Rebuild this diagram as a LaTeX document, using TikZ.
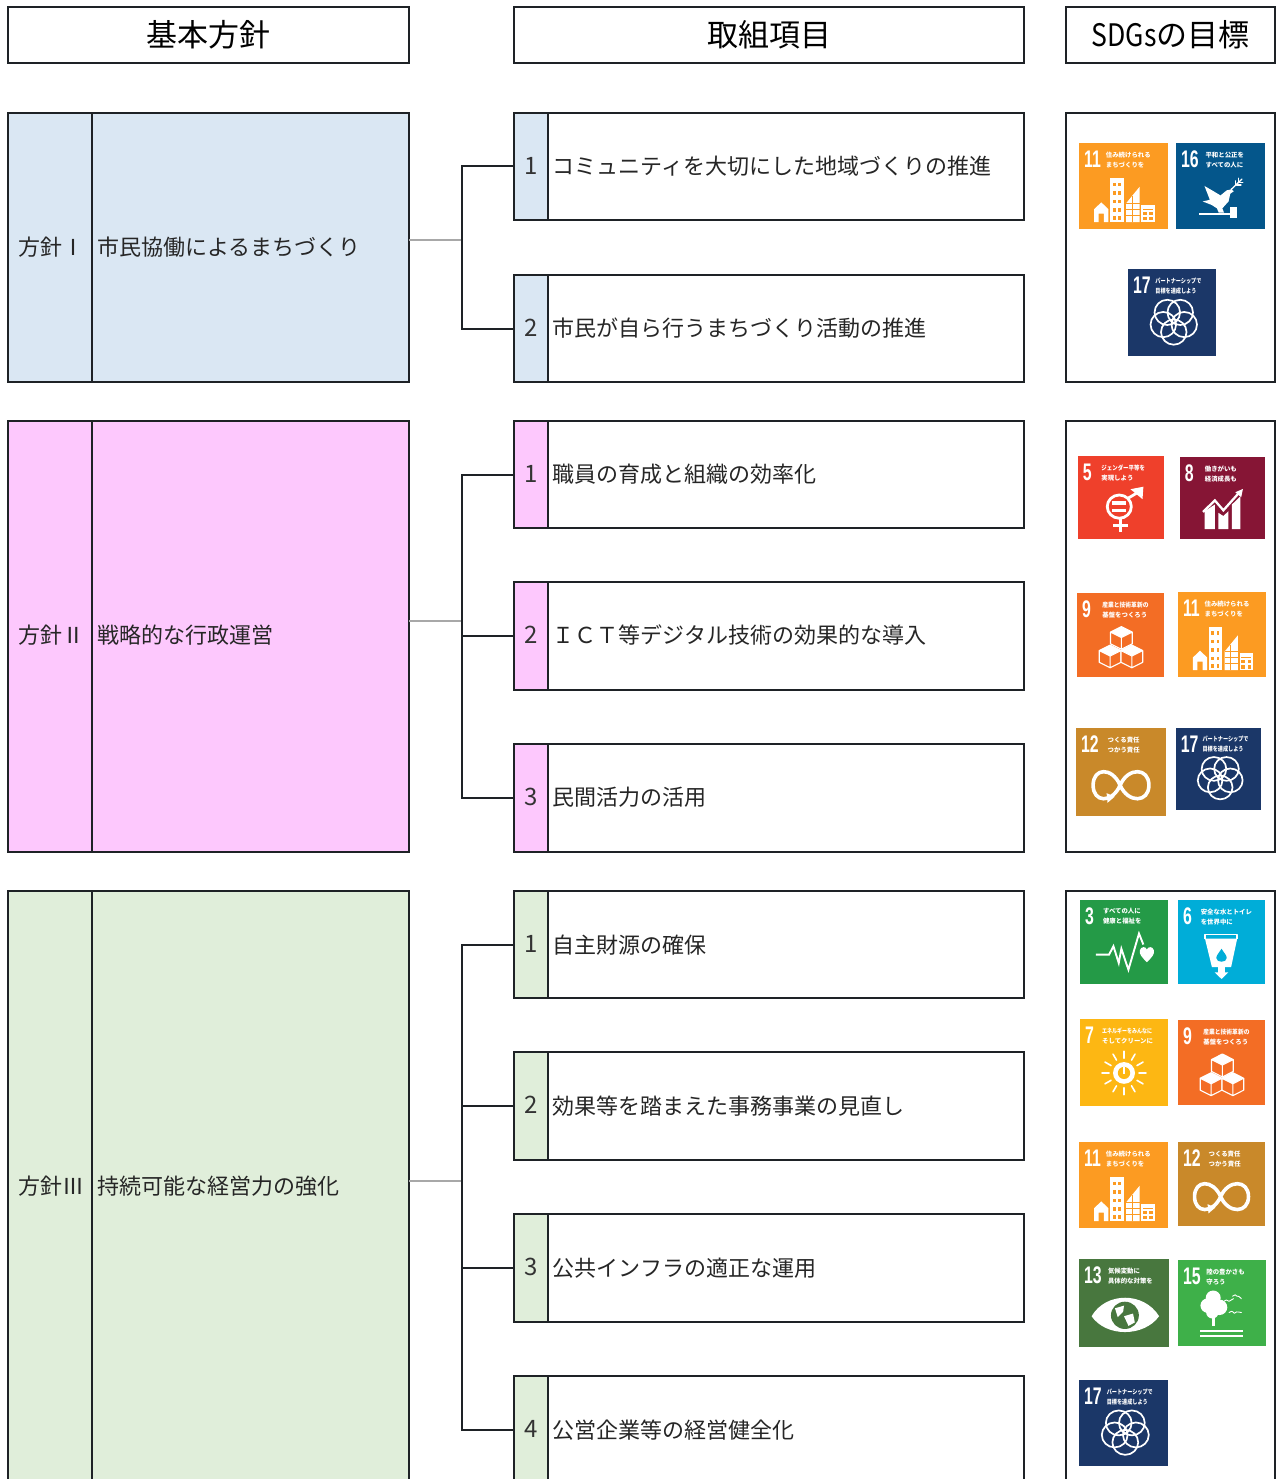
\documentclass[tikz,border=0pt]{standalone}
\usepackage{fontspec}
\usetikzlibrary{calc}
\setmainfont{Noto Sans CJK JP}
\newfontfamily\numfont{Liberation Sans}
\definecolor{inkc}{HTML}{1E2226}
\definecolor{graylink}{HTML}{A8A8A8}
\definecolor{blueb}{HTML}{DAE7F3}
\definecolor{pinkb}{HTML}{FDC8FD}
\definecolor{greenb}{HTML}{E0EEDA}
\definecolor{sA}{HTML}{FC9B22}
\definecolor{sB}{HTML}{04568B}
\definecolor{sC}{HTML}{1B3768}
\definecolor{sD}{HTML}{EF402B}
\definecolor{sE}{HTML}{861535}
\definecolor{sF}{HTML}{F36D25}
\definecolor{sG}{HTML}{C9892A}
\definecolor{sH}{HTML}{249A47}
\definecolor{sI}{HTML}{00ADD8}
\definecolor{sJ}{HTML}{FDB713}
\definecolor{sK}{HTML}{48773E}
\definecolor{sL}{HTML}{3EB049}
\tikzset{
  boxline/.style={draw=inkc,line width=2pt,outer sep=0pt},
  headbox/.style={boxline,fill=white,anchor=north west,inner sep=0pt,font=\fontsize{31}{36}\selectfont},
  policy/.style={boxline,anchor=north west,inner sep=0pt},
  itembox/.style={boxline,fill=white,anchor=north west,inner sep=0pt,minimum width=510pt},
  sidebox/.style={boxline,fill=white,anchor=north west,inner sep=0pt,minimum width=209pt},
  tabfill/.style={boxline,anchor=north west,inner sep=0pt,minimum width=34pt},
  txt/.style={anchor=west,inner sep=0pt,font=\fontsize{22}{26}\selectfont,text=black!85},
  numtxt/.style={anchor=center,inner sep=0pt,yshift=1pt,font=\fontsize{24}{28}\selectfont,text=black!80},
  spine/.style={draw=inkc,line width=2pt},
  feeder/.style={draw=graylink,line width=1.3pt},
  pict/.style={draw=white,line width=1.7pt,line join=round,line cap=round},
}
\newcount\sdgc
% pictograms in unit coordinates of the icon
\def\pcity{%
  \fill[white] (.17,.92)--(.17,.77)--(.25,.69)--(.33,.77)--(.33,.92)--(.28,.92)--(.28,.82)--(.22,.82)--(.22,.92)--cycle;
  \fill[white] (.35,.41) rectangle (.50,.92);
  \foreach \yy in {.46,.56,.66,.76,.85}{\fill[ic] (.38,\yy) rectangle (.41,\yy+.04); \fill[ic] (.44,\yy) rectangle (.47,\yy+.04);}
  \fill[white] (.53,.92)--(.53,.70)--(.68,.51)--(.68,.92)--cycle;
  \foreach \yy in {.70,.77,.84}{\draw[ic,line width=.8pt] (.53,\yy)--(.68,\yy);}
  \draw[ic,line width=.8pt] (.60,.62)--(.60,.92);
  \fill[white] (.70,.72) rectangle (.85,.92);
  \fill[ic] (.72,.77) rectangle (.83,.78);
  \foreach \yy in {.80,.86}{\fill[ic] (.72,\yy) rectangle (.76,\yy+.04); \fill[ic] (.79,\yy) rectangle (.83,\yy+.04);}
}
\def\pdove{%
  \fill[white] (.32,.50)--(.42,.56)--(.50,.61)--(.57,.55)--(.62,.54)--(.65,.56)--(.61,.59)--(.59,.68)--(.52,.76)--(.54,.81)--(.48,.81)--(.46,.76)--(.40,.72)--(.30,.68)--(.38,.66)--cycle;
  \draw[pict,line width=1.3pt] (.62,.54)--(.74,.42);
  \draw[pict,line width=1.3pt] (.67,.49)--(.67,.44) (.70,.46)--(.70,.41) (.68,.49)--(.73,.49) (.71,.46)--(.75,.46);
  \draw[pict,line width=2pt,line cap=butt] (.26,.83)--(.62,.83);
  \fill[white] (.61,.75) rectangle (.68,.87);
}
\def\pflower{%
  \foreach \aa in {90,162,234,306,378}{\draw[pict] ($(.52,.60)+(\aa:.125)$) circle[radius=.145];}
}
\def\pgender{%
  \draw[pict,line width=2.8pt] (.48,.61) circle[radius=.14];
  \fill[white] (.40,.54) rectangle (.56,.585);
  \fill[white] (.40,.635) rectangle (.56,.68);
  \draw[pict,line width=2.8pt,line cap=butt] (.58,.51)--(.71,.43);
  \fill[white] (.61,.40)--(.76,.37)--(.75,.52)--cycle;
  \draw[pict,line width=2.8pt,line cap=butt] (.49,.76)--(.49,.92) (.41,.84)--(.58,.84);
}
\def\pgrowth{%
  \fill[white] (.29,.88)--(.29,.66)--(.41,.58)--(.41,.88)--cycle;
  \fill[white] (.45,.88)--(.45,.68)--(.51,.72)--(.57,.66)--(.57,.88)--cycle;
  \fill[white] (.61,.88)--(.61,.58)--(.71,.48)--(.71,.88)--cycle;
  \draw[white,line width=2.3pt,line join=miter] (.27,.67)--(.41,.53)--(.51,.65)--(.70,.43);
  \fill[white] (.74,.39)--(.72,.49)--(.65,.43)--cycle;
}
\def\pcube#1#2{%
  \fill[white] (#1,#2-.13)--(#1+.125,#2-.065)--(#1,#2)--(#1-.125,#2-.065)--cycle;
  \fill[ic] (#1-.125,#2-.065)--(#1,#2)--(#1+.125,#2-.065)--(#1+.125,#2+.075)--(#1,#2+.14)--(#1-.125,#2+.075)--cycle;
  \draw[pict,line width=1.1pt] (#1,#2-.13)--(#1+.125,#2-.065)--(#1+.125,#2+.075)--(#1,#2+.14)--(#1-.125,#2+.075)--(#1-.125,#2-.065)--cycle (#1-.125,#2-.065)--(#1,#2)--(#1+.125,#2-.065) (#1,#2)--(#1,#2+.14);
}
\def\pcubes{\pcube{.51}{.53}\pcube{.38}{.75}\pcube{.63}{.75}}
\def\pinf{%
  \draw[pict,line width=3.6pt] (.49,.65) .. controls (.40,.44) and (.19,.45) .. (.19,.65) .. controls (.19,.85) and (.40,.86) .. (.49,.65) .. controls (.58,.44) and (.81,.45) .. (.81,.65) .. controls (.81,.85) and (.58,.86) .. (.49,.65);
  \fill[white] (.34,.74)--(.43,.78)--(.35,.85)--cycle;
}
\def\pheart{%
  \draw[pict,line width=1.9pt,line cap=butt,line join=miter] (.18,.65)--(.33,.65)--(.38,.55)--(.44,.75)--(.47,.58)--(.55,.83)--(.67,.40)--(.72,.53);
  \fill[white] (.76,.74) .. controls (.70,.68) and (.67,.64) .. (.68,.60) .. controls (.69,.55) and (.75,.55) .. (.76,.59) .. controls (.77,.55) and (.83,.55) .. (.84,.60) .. controls (.85,.64) and (.82,.68) .. (.76,.74) -- cycle;
}
\def\pwater{%
  \draw[pict,line cap=butt] (.31,.47)--(.31,.41)--(.68,.41)--(.68,.47);
  \fill[white] (.31,.46)--(.68,.46)--(.61,.80)--(.54,.80)--(.54,.86)--(.58,.86)--(.50,.94)--(.42,.86)--(.46,.86)--(.46,.80)--(.39,.80)--cycle;
  \fill[ic] (.50,.58) .. controls (.47,.63) and (.44,.66) .. (.44,.69) .. controls (.44,.75) and (.56,.75) .. (.56,.69) .. controls (.56,.66) and (.53,.63) .. (.50,.58) -- cycle;
}
\def\psun{%
  \foreach \aa in {0,30,...,330}{\draw[pict,line width=1.6pt] ($(.50,.62)+(\aa:.17)$)--($(.50,.62)+(\aa:.25)$);}
  \fill[white] (.50,.62) circle[radius=.125];
  \fill[ic] (.50,.62) circle[radius=.07];
  \draw[white,line width=1.6pt] (.50,.55)--(.50,.63);
}
\def\peye{%
  \fill[white] (.14,.65) .. controls (.30,.37) and (.72,.37) .. (.89,.65) .. controls (.72,.89) and (.30,.89) .. (.14,.65) -- cycle;
  \fill[ic] (.51,.64) circle[radius=.155];
  \fill[white] (.40,.56)--(.50,.53)--(.49,.60)--(.43,.66)--cycle;
  \fill[white] (.50,.65)--(.60,.62)--(.62,.72)--(.55,.76)--cycle;
}
\def\ptree{%
  \fill[white] (.40,.44) circle[radius=.085];
  \fill[white] (.34,.53) circle[radius=.085];
  \fill[white] (.47,.55) circle[radius=.09];
  \fill[white] (.39,.61) circle[radius=.07];
  \fill[white] (.385,.62) rectangle (.415,.77);
  \fill[white] (.25,.81) rectangle (.74,.84);
  \fill[white] (.25,.87) rectangle (.74,.90);
  \draw[pict,line width=.9pt] (.52,.48) .. controls (.55,.46) .. (.58,.48) .. controls (.60,.46) .. (.63,.45);
  \draw[pict,line width=.9pt] (.62,.42) .. controls (.65,.40) .. (.67,.42) .. controls (.69,.42) .. (.72,.45);
  \draw[pict,line width=.9pt] (.58,.61) .. controls (.61,.59) .. (.64,.62) .. controls (.66,.60) .. (.72,.61);
}
% \sdg(x1,y1)(x2,y2){colour}{pictogram}{number}{text x}{two text lines}
\def\sdg(#1,#2)(#3,#4)#5#6#7#8#9{%
  \global\advance\sdgc by 1
  \pgfmathsetmacro\sdgw{#3-#1}\pgfmathsetmacro\sdgh{#4-#2}%
  \colorlet{ic}{#5}%
  \begin{scope}[shift={(#1,#2)},x=\sdgw pt,y=-\sdgh pt]
    \fill[ic] (0,0) rectangle (1,1);
    #6
    \node[anchor=north west,inner sep=0pt,text=white] (sdgnum\the\sdgc) at (.055,.09)
      {\scalebox{.66}[1]{\numfont\bfseries\fontsize{24}{24}\selectfont #7}};
    \node[anchor=north west,inner sep=0pt,text=white,align=left,font=\bfseries\fontsize{6.4}{10}\selectfont] (sdgtxt\the\sdgc) at (#8,.10) {#9};
  \end{scope}
}
\begin{document}
\begin{tikzpicture}[x=1pt,y=-1pt]
\useasboundingbox (0,0) rectangle (1276,1479);
\clip (0,0) rectangle (1276,1479);
\fill[white] (0,0) rectangle (1276,1479);
% headers
\node[headbox,minimum width=401pt,minimum height=56pt] (h1) at (8,7) {基本方針};
\node[headbox,minimum width=510pt,minimum height=56pt] (h2) at (514,7) {取組項目};
\node[headbox,minimum width=209pt,minimum height=56pt] (h3) at (1066,7) {\scalebox{.86}[1]{SDGs}の目標};
% policy boxes
\node[policy,fill=blueb,minimum width=401pt,minimum height=269pt] (p1) at (8,113) {};
\node[policy,fill=pinkb,minimum width=401pt,minimum height=431pt] (p2) at (8,421) {};
\node[policy,fill=greenb,minimum width=401pt,minimum height=620pt] (p3) at (8,891) {};
\draw[boxline] (92,113)--(92,382) (92,421)--(92,852) (92,891)--(92,1490);
\node[txt] (p1a) at (18,247) {方針Ⅰ};
\node[txt] (p1b) at (97,247) {市民協働によるまちづくり};
\node[txt] (p2a) at (18,635) {方針Ⅱ};
\node[txt] (p2b) at (97,635) {戦略的な行政運営};
\node[txt] (p3a) at (18,1186) {方針Ⅲ};
\node[txt] (p3b) at (97,1186) {持続可能な経営力の強化};
% items: group 1
\node[itembox,minimum height=107pt] (a1) at (514,113) {};
\node[itembox,minimum height=107pt] (a2) at (514,275) {};
\node[tabfill,fill=blueb,minimum height=107pt] (at1) at (514,113) {};
\node[tabfill,fill=blueb,minimum height=107pt] (at2) at (514,275) {};
\node[numtxt] (an1) at (at1.center) {1};
\node[numtxt] (an2) at (at2.center) {2};
\node[txt] (ax1) at (552.5,166) {コミュニティを大切にした地域づくりの推進};
\node[txt] (ax2) at (552.5,328) {市民が自ら行うまちづくり活動の推進};
% items: group 2
\node[itembox,minimum height=107pt] (b1) at (514,421) {};
\node[itembox,minimum height=108pt] (b2) at (514,582) {};
\node[itembox,minimum height=108pt] (b3) at (514,744) {};
\node[tabfill,fill=pinkb,minimum height=107pt] (bt1) at (514,421) {};
\node[tabfill,fill=pinkb,minimum height=108pt] (bt2) at (514,582) {};
\node[tabfill,fill=pinkb,minimum height=108pt] (bt3) at (514,744) {};
\node[numtxt] (bn1) at (bt1.center) {1};
\node[numtxt] (bn2) at (bt2.center) {2};
\node[numtxt] (bn3) at (bt3.center) {3};
\node[txt] (bx1) at (552.5,474) {職員の育成と組織の効率化};
\node[txt] (bx2) at (552.5,635) {ＩＣＴ等デジタル技術の効果的な導入};
\node[txt] (bx3) at (552.5,797) {民間活力の活用};
% items: group 3
\node[itembox,minimum height=107pt] (c1) at (514,891) {};
\node[itembox,minimum height=108pt] (c2) at (514,1052) {};
\node[itembox,minimum height=108pt] (c3) at (514,1214) {};
\node[itembox,minimum height=120pt] (c4) at (514,1376) {};
\node[tabfill,fill=greenb,minimum height=107pt] (ct1) at (514,891) {};
\node[tabfill,fill=greenb,minimum height=108pt] (ct2) at (514,1052) {};
\node[tabfill,fill=greenb,minimum height=108pt] (ct3) at (514,1214) {};
\node[tabfill,fill=greenb,minimum height=120pt] (ct4) at (514,1376) {};
\node[numtxt] (cn1) at (531,945) {1};
\node[numtxt] (cn2) at (531,1106) {2};
\node[numtxt] (cn3) at (531,1268) {3};
\node[numtxt] (cn4) at (531,1430) {4};
\node[txt] (cx1) at (552.5,945) {自主財源の確保};
\node[txt] (cx2) at (552.5,1106) {効果等を踏まえた事務事業の見直し};
\node[txt] (cx3) at (552.5,1268) {公共インフラの適正な運用};
\node[txt] (cx4) at (552.5,1430) {公営企業等の経営健全化};
% connectors
\coordinate (j1) at (462,240);
\coordinate (j2) at (462,621);
\coordinate (j3) at (462,1181);
\coordinate (k3) at (514,1430);
\draw[feeder] (p1.east |- j1) -- (j1);
\draw[feeder] (p2.east |- j2) -- (j2);
\draw[feeder] (p3.east |- j3) -- (j3);
\draw[spine] (a1.west) -| (j1) |- (a2.west);
\draw[spine] (b1.west) -| (j2) |- (b3.west);
\draw[spine] (b2.west) -- (b2.west -| j2);
\draw[spine] (c1.west) -| (j3) |- (k3);
\draw[spine] (c2.west) -- (c2.west -| j3);
\draw[spine] (c3.west) -- (c3.west -| j3);
% SDG panels
\node[sidebox,minimum height=269pt] (s1) at (1066,113) {};
\node[sidebox,minimum height=431pt] (s2) at (1066,421) {};
\node[sidebox,minimum height=620pt] (s3) at (1066,891) {};
% icons
\sdg(1079,143)(1168,229){sA}{\pcity}{11}{.30}{住み続けられる\\まちづくりを}
\sdg(1176,143)(1265,229){sB}{\pdove}{16}{.33}{平和と公正を\\すべての人に}
\sdg(1128,269)(1216,356){sC}{\pflower}{17}{.31}{\scalebox{.8}[1]{パートナーシップで}\\\scalebox{.8}[1]{目標を達成しよう}}
\sdg(1078,456)(1164,539){sD}{\pgender}{5}{.27}{\scalebox{.85}[1]{ジェンダー平等を}\\実現しよう}
\sdg(1180,457)(1265,539){sE}{\pgrowth}{8}{.29}{働きがいも\\経済成長も}
\sdg(1077,593)(1164,677){sF}{\pcubes}{9}{.29}{\scalebox{.9}[1]{産業と技術革新の}\\基盤をつくろう}
\sdg(1178,592)(1266,677){sA}{\pcity}{11}{.30}{住み続けられる\\まちづくりを}
\sdg(1076,728)(1166,816){sG}{\pinf}{12}{.35}{つくる責任\\つかう責任}
\sdg(1176,728)(1261,810){sC}{\pflower}{17}{.31}{\scalebox{.8}[1]{パートナーシップで}\\\scalebox{.8}[1]{目標を達成しよう}}
\sdg(1080,900)(1168,984){sH}{\pheart}{3}{.26}{すべての人に\\健康と福祉を}
\sdg(1178,900)(1265,984){sI}{\pwater}{6}{.26}{安全な水とトイレ\\を世界中に}
\sdg(1080,1019)(1168,1106){sJ}{\psun}{7}{.25}{\scalebox{.78}[1]{エネルギーをみんなに}\\そしてクリーンに}
\sdg(1178,1020)(1265,1105){sF}{\pcubes}{9}{.29}{\scalebox{.9}[1]{産業と技術革新の}\\基盤をつくろう}
\sdg(1079,1142)(1168,1228){sA}{\pcity}{11}{.30}{住み続けられる\\まちづくりを}
\sdg(1178,1142)(1265,1226){sG}{\pinf}{12}{.35}{つくる責任\\つかう責任}
\sdg(1079,1259)(1169,1347){sK}{\peye}{13}{.32}{気候変動に\\具体的な対策を}
\sdg(1178,1260)(1266,1346){sL}{\ptree}{15}{.32}{陸の豊かさも\\守ろう}
\sdg(1079,1380)(1168,1466){sC}{\pflower}{17}{.31}{\scalebox{.8}[1]{パートナーシップで}\\\scalebox{.8}[1]{目標を達成しよう}}
\end{tikzpicture}
\end{document}
